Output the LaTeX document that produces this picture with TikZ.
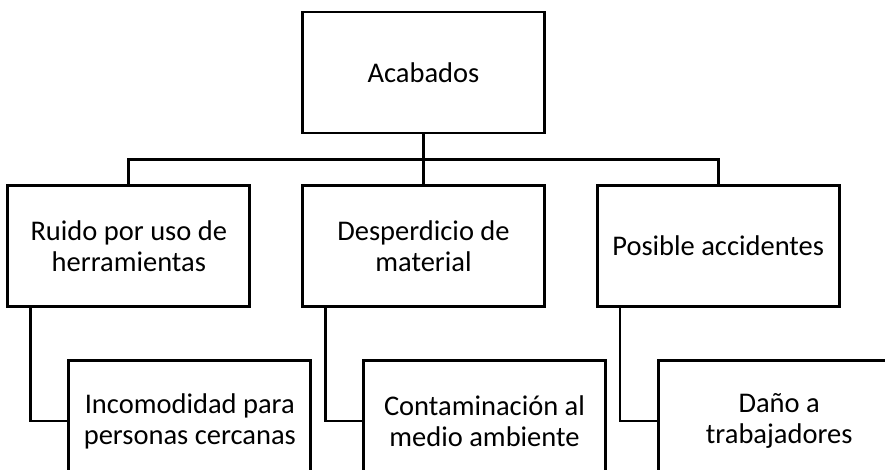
\documentclass[tikz,border=0pt]{standalone}
\usepackage{fontspec}
\setmainfont{Carlito}
\usetikzlibrary{positioning}

\begin{document}
\begin{tikzpicture}[
    x=1pt, y=-1pt,
    node distance=50pt and 50pt,
    box/.style={draw, line width=2.7pt, minimum width=242pt, minimum height=121pt,
                align=center, inner sep=0pt, font=\fontsize{28.5}{31}\selectfont},
    link/.style={line width=2.7pt}
]
\useasboundingbox (0,0) rectangle (885,469);
% Top level
\node[box] (acab) at (423.5, 72.5) {Acabados};

% Second level
\node[box, below=of acab] (desp) {Desperdicio de\\material};
\node[box, left=of desp] (ruido) {Ruido por uso de\\herramientas};
\node[box, right=of desp] (posib) {Posible accidentes};

% Third level
\node[box, below=51pt of ruido, xshift=61pt] (incom) {Incomodidad para\\personas cercanas};
\node[box, below=51pt of desp, xshift=61pt] (conta) {Contaminación al\\medio ambiente};
\node[box, below=51pt of posib, xshift=61pt] (dano) {Daño a\\trabajadores};

% Connectors
\coordinate[below=25pt of acab.south] (bus);
\draw[link] (acab) -- (desp);
\draw[link] (ruido.north) |- (bus) -| (posib.north);
\draw[link] ([xshift=24pt]ruido.south west) |- (incom.west);
\draw[link] ([xshift=24pt]desp.south west) |- (conta.west);
\draw[link] ([xshift=24pt]posib.south west) |- (dano.west);

\end{tikzpicture}
\end{document}
